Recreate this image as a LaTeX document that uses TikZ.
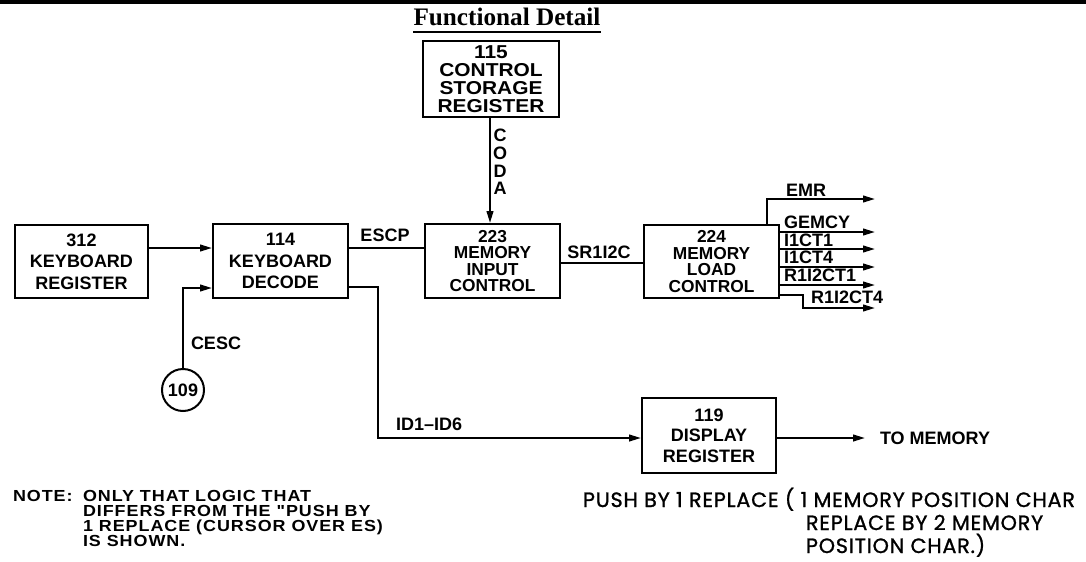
\documentclass[tikz,border=0pt]{standalone}
\usepackage{fontspec}
\setmainfont{Liberation Serif}
\newfontfamily\labfont{Liberation Sans}
\newfontfamily\widelabfont{Liberation Sans}[FakeStretch=1.12]
\newfontfamily\notefont{Liberation Sans}[FakeStretch=1.12,LetterSpace=6]
\newfontfamily\pushfont{Poppins}[FakeBold=1.2,LetterSpace=4]
\usetikzlibrary{arrows.meta}
\newcommand\lblf{\labfont\bfseries\fontsize{13.5}{16}\selectfont}
\tikzset{
  box/.style={draw, line width=1.5pt, rectangle, inner sep=0pt, align=center, font=\lblf},
  arr/.style={-{Triangle[length=9pt,width=5pt]}},
  lab/.style={inner sep=0pt, font=\lblf},
  note/.style={inner sep=0pt, anchor=base west, font=\notefont\bfseries\fontsize{12}{12}\selectfont},
  push/.style={inner sep=0pt, anchor=base west, font=\pushfont\fontsize{15.5}{16}\selectfont},
}
\begin{document}
\begin{tikzpicture}[x=0.75pt,y=-0.75pt,line width=1.5pt]
\useasboundingbox (0,0) rectangle (1086,561);
% top rule and title
\draw[line width=2.5pt] (0,2) -- (1086,2);
\node[anchor=base, inner sep=0pt, font=\bfseries\fontsize{18.9}{20}\selectfont] (title) at (507,25) {Functional Detail};
\draw[line width=1.2pt] (413,32) -- (601,32);

% boxes
\node[box, minimum width=102pt, minimum height=57pt, font=\widelabfont\bfseries\fontsize{14}{13.5}\selectfont] (b115) at (491,79) {115\\CONTROL\\STORAGE\\REGISTER};
\node[box, minimum width=99.75pt, minimum height=54.75pt] (b312) at (81.5,261.5) {312\\KEYBOARD\\REGISTER};
\node[box, minimum width=101.25pt, minimum height=55.5pt] (b114) at (280.5,261) {114\\KEYBOARD\\DECODE};
\node[box, minimum width=101.25pt, minimum height=55.5pt, font=\labfont\bfseries\fontsize{13}{12.3}\selectfont] (b223) at (492.5,261) {223\\MEMORY\\INPUT\\CONTROL};
\node[box, minimum width=101.25pt, minimum height=54.75pt, font=\labfont\bfseries\fontsize{13}{12.3}\selectfont] (b224) at (711.5,261.5) {224\\MEMORY\\LOAD\\CONTROL};
\node[box, minimum width=100.5pt, minimum height=56.25pt, font=\labfont\bfseries\fontsize{13.5}{15.5}\selectfont] (b119) at (709,435.5) {119\\DISPLAY\\REGISTER};
\node[circle, draw, line width=1.5pt, minimum size=31.5pt, inner sep=0pt, font=\lblf] (c109) at (183,390) {109};

% connectors
\draw[arr] (b312.east |- 0,248) -- (b114.west |- 0,248);
\draw[arr] (c109.north) |- (b114.west |- 0,288);
\node[lab, anchor=west] (lcesc) at (190,343.5) {CESC};
\draw (b114.east |- 0,248) -- (b223.west |- 0,248);
\node[lab] (lescp) at (385,235) {ESCP};
\draw[arr] (b115.south -| 490,0) -- (b223.north -| 490,0);
\node[lab, align=center, font=\labfont\bfseries\fontsize{13.5}{13.2}\selectfont] (lcoda) at (500,162) {C\\O\\D\\A};
\draw (b223.east |- 0,263) -- (b224.west |- 0,263);
\node[lab] (lsr) at (599,252) {SR1I2C};
\draw[arr] (b114.east |- 0,287) -| (378,438) -- (b119.west |- 0,438);
\node[lab, anchor=west] (lid) at (395,424) {ID1–ID6};
\coordinate (tomem) at (865,438);
\draw[arr] (b119.east |- 0,438) -- (tomem);
\node[lab, anchor=west] (ltomem) at (879,438) {TO MEMORY};

% outputs of 224
\coordinate (oemr) at (875,199);
\coordinate (ogem) at (875,232);
\coordinate (oa) at (875,249);
\coordinate (ob) at (875,267);
\coordinate (oc) at (875,285);
\coordinate (od) at (875,308);
\draw[arr] (b224.north -| 767,0) |- (oemr);
\draw[arr] (b224.east |- ogem) -- (ogem);
\draw[arr] (b224.east |- oa) -- (oa);
\draw[arr] (b224.east |- ob) -- (ob);
\draw[arr] (b224.east |- oc) -- (oc);
\draw[arr] (b224.east |- 0,295) -| (803,308) -- (od);
\node[lab, anchor=west] (lemr) at (785,190) {EMR};
\node[lab, anchor=west] (lgem) at (783,222) {GEMCY};
\node[lab, anchor=west] (la) at (783,240) {I1CT1};
\node[lab, anchor=west] (lb) at (783,257.5) {I1CT4};
\node[lab, anchor=west] (lc) at (783,275.5) {R1I2CT1};
\node[lab, anchor=west] (ld) at (810,297.5) {R1I2CT4};

% notes
\node[note] (n0) at (12,501) {NOTE:};
\node[note] (n1) at (82,501) {ONLY THAT LOGIC THAT};
\node[note] (n2) at (82,516) {DIFFERS FROM THE "PUSH BY};
\node[note] (n3) at (82,531) {1 REPLACE (CURSOR OVER ES)};
\node[note] (n4) at (82,546) {IS SHOWN.};

\node[push] (p1) at (582,507) {PUSH BY 1 REPLACE ( 1 MEMORY POSITION CHAR};
\node[push] (p2) at (805,530) {REPLACE BY 2 MEMORY};
\node[push] (p3) at (805,553) {POSITION CHAR.)};
\end{tikzpicture}
\end{document}
